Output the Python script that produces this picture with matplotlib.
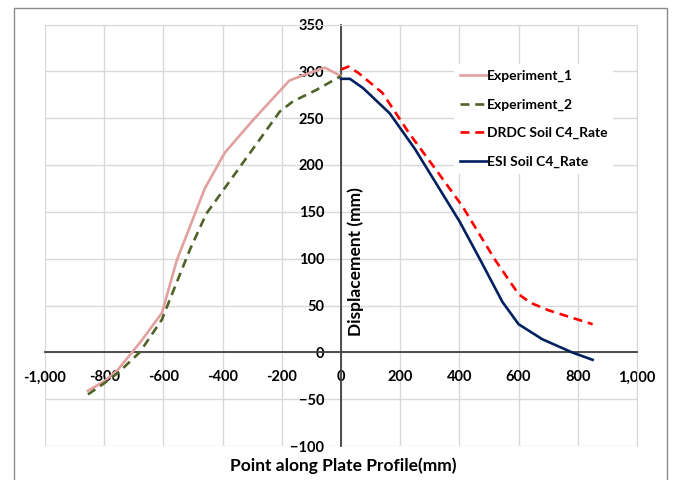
import matplotlib
matplotlib.use("Agg")
import matplotlib.pyplot as plt
from matplotlib.patches import Rectangle
from matplotlib.ticker import FuncFormatter

# ---- data ----
exp1_x = [-855, -800, -755, -680, -605, -555, -528, -460, -393, -297, -175, -135, -55, 0]
exp1_y = [-41, -31, -19, 10, 42, 98, 120, 175, 213, 248, 290, 295, 304, 295]

exp2_x = [-855, -800, -750, -680, -605, -580, -510, -455, -207, -162, -84, 0]
exp2_y = [-45, -33, -21, 0, 35, 55, 110, 148, 257, 268, 280, 295]

drdc_x = [0, 25, 60, 140, 230, 330, 410, 520, 600, 640, 700, 850]
drdc_y = [302, 305, 298, 277, 234, 191, 156, 99, 62, 53, 45, 30]

esi_x = [0, 30, 75, 165, 250, 400, 470, 545, 600, 680, 780, 850]
esi_y = [292, 292, 282, 255, 217, 140, 99, 54, 30, 14, 0, -8]

x_ticks = [-1000, -800, -600, -400, -200, 0, 200, 400, 600, 800, 1000]
y_ticks = [-100, -50, 0, 50, 100, 150, 200, 250, 300, 350]

FONT = "Lato"
plt.rcParams["font.family"] = [FONT, "DejaVu Sans"]
plt.rcParams["font.weight"] = "bold"

fig = plt.figure(figsize=(6.73, 4.8), dpi=100)
fig.patch.set_facecolor("white")
fig.patches.append(Rectangle((14 / 673, -0.01), (667 - 14) / 673, 1 - 8 / 480 + 0.01,
                             transform=fig.transFigure, fill=False,
                             edgecolor="#8C8C8C", linewidth=1.0))

ax = fig.add_axes([45 / 673, 34 / 480, 592 / 673, 421.5 / 480])
ax.set_xlim(-1000, 1000)
ax.set_ylim(-100, 350)
ax.set_xticks(x_ticks)
ax.set_yticks(y_ticks)
ax.grid(True, color="#D9D9D9", linewidth=1.0, zorder=0)
ax.set_axisbelow(True)

for s in ["top", "right"]:
    ax.spines[s].set_color("#D9D9D9")
ax.spines["left"].set_position(("data", 0))
ax.spines["bottom"].set_position(("data", 0))
ax.spines["left"].set_color("#404040")
ax.spines["bottom"].set_color("#404040")
ax.spines["left"].set_linewidth(1.3)
ax.spines["bottom"].set_linewidth(1.3)
ax.tick_params(length=0, labelsize=10.5, colors="black")
ax.tick_params(axis="x", pad=13)
ax.tick_params(axis="y", pad=12)
ax.xaxis.set_major_formatter(FuncFormatter(lambda v, p: f"{int(v):,}"))

lw = 1.9
ax.plot(exp1_x, exp1_y, color="#E2A09E", lw=lw, label="Experiment_1", zorder=3)
ax.plot(exp2_x, exp2_y, color="#4F6228", lw=lw, dashes=(3.4, 2.2), label="Experiment_2", zorder=3)
ax.plot(drdc_x, drdc_y, color="#FF0000", lw=lw, dashes=(3.4, 2.2), label="DRDC Soil C4_Rate", zorder=3)
ax.plot(esi_x, esi_y, color="#002060", lw=lw, label="ESI Soil C4_Rate", zorder=3)

leg = ax.legend(loc="upper left", bbox_to_anchor=((447 - 45) / 592, 1 - (57 - 24.5) / 421.5),
                bbox_transform=ax.transAxes, frameon=True, fancybox=False,
                edgecolor="none", facecolor="white", framealpha=1.0,
                prop={"weight": "bold", "size": 10}, handlelength=2.0,
                handletextpad=0.0, labelspacing=1.2, borderpad=0.4)
leg.set_zorder(5)

fig.text(343 / 673, 1 - 466 / 480, "Point along Plate Profile(mm)",
         ha="center", va="center", fontsize=12.5, fontweight="bold")
fig.text(356 / 673, 1 - 262 / 480, "Displacement (mm)", rotation=90,
         ha="center", va="center", fontsize=12.5, fontweight="bold")

fig.savefig("out.png", dpi=100, facecolor="white")
